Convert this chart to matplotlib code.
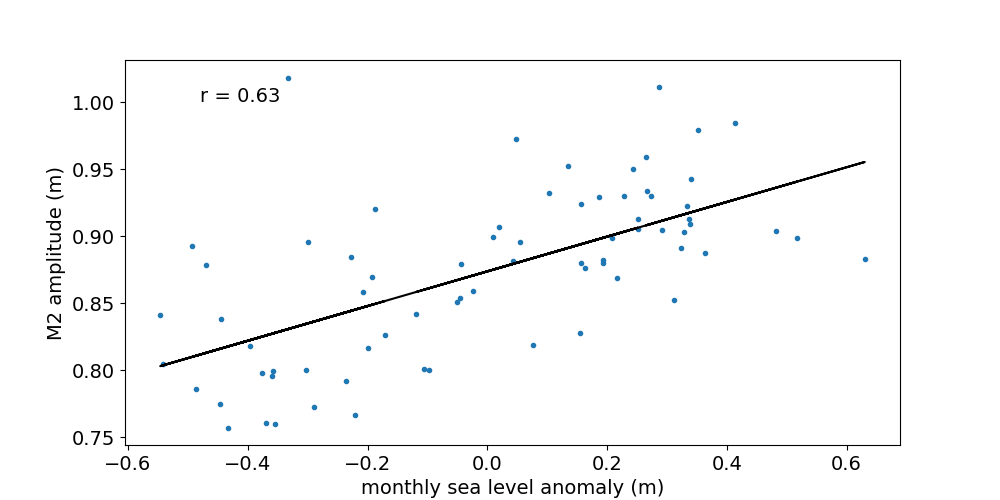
import numpy as np
import matplotlib
matplotlib.use('Agg')
import matplotlib.pyplot as plt

plt.rcParams['font.size'] = 14

# monthly sea level anomaly (m)
sla = np.array([
    -0.3326, -0.4928, -0.2992, -0.1874, -0.4695, -0.2275, -0.1924, -0.2074,
    -0.5462, -0.4444, -0.1707, -0.3960, -0.1991, -0.5417, -0.3760, -0.3576,
    -0.3593, -0.3026, -0.2363, -0.4861, -0.4461, -0.2892, -0.2208, -0.3693,
    -0.3543, -0.4327, 0.0479, 0.1347, 0.2432, 0.1030, 0.1864, 0.2281,
    0.1564, 0.2510, 0.0195, 0.0095, 0.0546, 0.2081, 0.2510, -0.0439,
    0.0429, 0.1564, 0.1631, 0.1931, 0.1931, 0.2165, -0.0239, -0.0461,
    -0.0506, -0.1183, 0.0763, 0.1547, -0.1056, -0.0973, 0.2865, 0.3516,
    0.4134, 0.2649, 0.3400, 0.2665, 0.2732, 0.3333, 0.3366, 0.3383,
    0.2916, 0.3283, 0.4818, 0.5169, 0.3233, 0.3633, 0.6303, 0.3116,
])

# M2 amplitude (m)
m2 = np.array([
    1.0184, 0.8923, 0.8953, 0.9199, 0.8781, 0.8841, 0.8692, 0.8580,
    0.8408, 0.8378, 0.8266, 0.8177, 0.8169, 0.8043, 0.7975, 0.7990,
    0.7953, 0.7998, 0.7916, 0.7863, 0.7744, 0.7722, 0.7669, 0.7602,
    0.7595, 0.7572, 0.9722, 0.9520, 0.9498, 0.9319, 0.9289, 0.9296,
    0.9237, 0.9125, 0.9065, 0.8990, 0.8953, 0.8983, 0.9050, 0.8789,
    0.8813, 0.8796, 0.8759, 0.8819, 0.8799, 0.8684, 0.8587, 0.8535,
    0.8505, 0.8416, 0.8184, 0.8274, 0.8005, 0.7998, 1.0110, 0.9789,
    0.9841, 0.9587, 0.9423, 0.9334, 0.9296, 0.9222, 0.9125, 0.9087,
    0.9043, 0.9028, 0.9035, 0.8983, 0.8908, 0.8878, 0.8826, 0.8520,
])

r_text = 'r = 0.63'

p = np.polyfit(sla, m2, 1)
fit = np.polyval(p, sla)

plt.figure(figsize=(10, 5))
plt.plot(sla, m2, '.')
plt.plot(sla, fit, 'k')
plt.text(-0.48, 1.0, r_text)
plt.xlabel('monthly sea level anomaly (m)')
plt.ylabel('M2 amplitude (m)')
plt.savefig('out.png', dpi=100)
